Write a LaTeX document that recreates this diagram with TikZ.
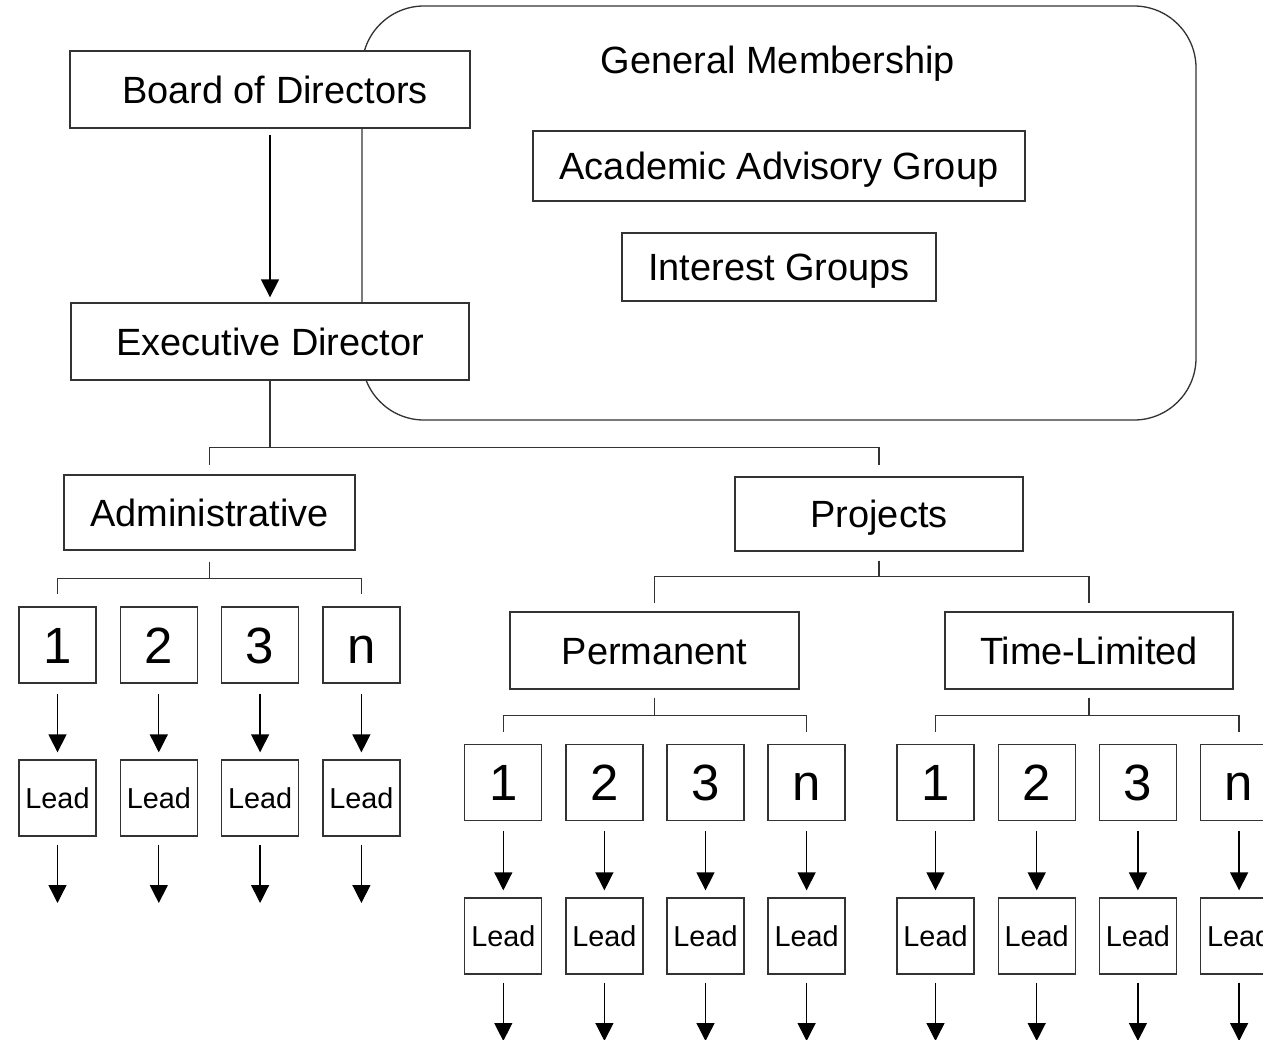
\documentclass[tikz,border=0pt]{standalone}
\usepackage{fontspec}
\setmainfont{Liberation Sans}
\usetikzlibrary{arrows.meta,calc}

\newcommand{\titlefont}{\fontsize{21.6}{26}\selectfont}
\newcommand{\numfont}{\fontsize{29}{34}\selectfont}
\newcommand{\leadfont}{\fontsize{16.4}{20}\selectfont}

\begin{document}
\begin{tikzpicture}[x=0.02cm, y=-0.02cm,
    box/.style={draw=black!80, fill=white, line width=0.75pt, inner sep=0pt, font=\titlefont, text height=15.5pt, text depth=0pt},
    unit/.style={box, minimum width=1.54cm, minimum height=1.52cm, font=\numfont, text height=20.8pt},
    lead/.style={unit, font=\leadfont, text height=11.7pt},
    link/.style={draw=black!80, line width=0.75pt},
    arrow/.style={link, draw=black, -{Triangle[width=0.36cm, length=0.36cm]}, shorten <=0.2cm, shorten >=0.14cm}
]
    \useasboundingbox (0,0) rectangle (1263,1040);
    \clip (0,0) rectangle (1263,1040);

    % membership frame
    \draw[link, rounded corners=1.24cm] (362,6) rectangle (1196,420);
    \node[font=\titlefont, text height=15.5pt, text depth=0pt, inner sep=0pt] (gm) at (778,60) {General Membership};
    \node[box, minimum width=9.84cm, minimum height=1.4cm] (aag) at (779,166) {Academic Advisory Group};
    \node[box, minimum width=6.28cm, minimum height=1.36cm] (ig) at (779,267) {Interest Groups};

    % top of the chart
    \node[box, minimum width=8cm, minimum height=1.54cm] (board) at (270,89.5) {\hspace*{0.2cm}Board of Directors};
    \node[box, minimum width=7.96cm, minimum height=1.54cm] (exec) at (270,341.5) {Executive Director};
    \draw[arrow, shorten <=0.12cm, shorten >=0.1cm] (board.south) -- (exec.north);

    \node[box, minimum width=5.82cm, minimum height=1.5cm] (admin) at (209.5,512.5) {Administrative};
    \node[box, minimum width=5.76cm, minimum height=1.48cm] (proj) at (879,514) {Projects};
    \node[box, minimum width=5.78cm, minimum height=1.54cm] (perm) at (654.5,650.5) {Permanent};
    \node[box, minimum width=5.76cm, minimum height=1.54cm] (tl) at (1089,650.5) {Time-Limited};

    \draw[link, shorten >=0.18cm] (exec.south) -- ++(0,67) -| (admin.north);
    \draw[link, shorten >=0.22cm] (exec.south) -- ++(0,67) -| (proj.north);
    \foreach \k in {perm,tl}
        \draw[link, shorten <=0.18cm, shorten >=0.16cm] (proj.south) -- ++(0,25) -| (\k.north);

    % administrative units
    \foreach \t [count=\i] in {1,2,3,n} {
        \node[unit] (a\i) at ({57.5+101.3*(\i-1)},645) {\t};
        \node[lead] (al\i) at ({57.5+101.3*(\i-1)},798) {Lead};
        \coordinate (ae\i) at ({57.5+101.3*(\i-1)},903);
        \draw[arrow] (a\i) -- (al\i);
        \draw[arrow, shorten <=0.16cm, shorten >=0pt] (al\i) -- (ae\i);
    }
    \foreach \k in {1,4}
        \draw[link, shorten <=0.22cm, shorten >=0.24cm] (admin.south) -- ++(0,28) -| (a\k.north);

    % permanent projects
    \foreach \t [count=\i] in {1,2,3,n} {
        \node[unit] (p\i) at ({503.3+101.1*(\i-1)},782.5) {\t};
        \node[lead] (pl\i) at ({503.3+101.1*(\i-1)},936) {Lead};
        \coordinate (pe\i) at ({503.3+101.1*(\i-1)},1041);
        \draw[arrow] (p\i) -- (pl\i);
        \draw[arrow, shorten <=0.16cm, shorten >=0pt] (pl\i) -- (pe\i);
    }
    \foreach \k in {1,4}
        \draw[link, shorten <=0.16cm, shorten >=0.24cm] (perm.south) -- ++(0,26) -| (p\k.north);

    % time-limited projects
    \foreach \t [count=\i] in {1,2,3,n} {
        \node[unit] (t\i) at ({935.5+101.2*(\i-1)},782.5) {\t};
        \node[lead] (tl\i) at ({935.5+101.2*(\i-1)},936) {Lead};
        \coordinate (te\i) at ({935.5+101.2*(\i-1)},1041);
        \draw[arrow] (t\i) -- (tl\i);
        \draw[arrow, shorten <=0.16cm, shorten >=0pt] (tl\i) -- (te\i);
    }
    \foreach \k in {1,4}
        \draw[link, shorten <=0.16cm, shorten >=0.24cm] (tl.south) -- ++(0,26) -| (t\k.north);
\end{tikzpicture}
\end{document}
